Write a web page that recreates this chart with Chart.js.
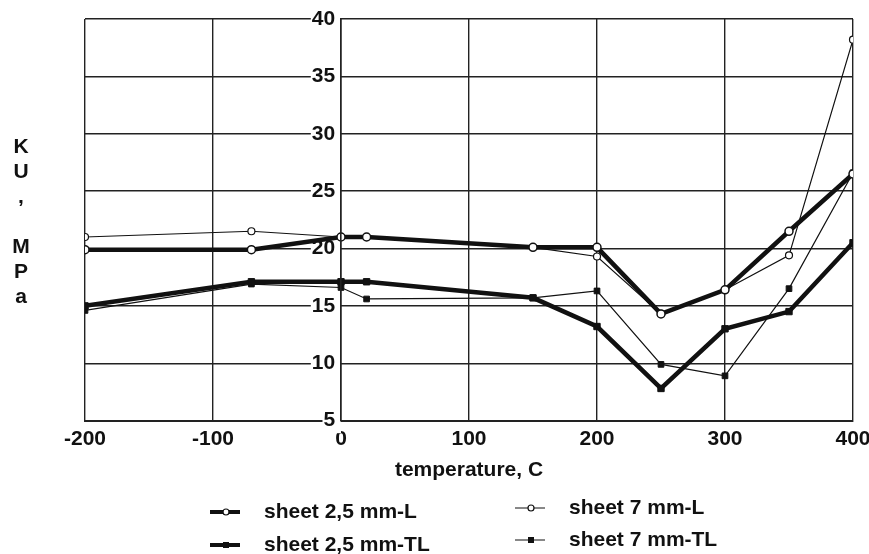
<!DOCTYPE html>
<html>
<head>
<meta charset="utf-8">
<script src="https://cdn.jsdelivr.net/npm/chart.js@4/dist/chart.umd.min.js"></script>
<style>
  html, body { margin: 0; padding: 0; background: #fff; }
  #wrap { width: 869px; height: 554px; }
</style>
</head>
<body>
<div id="wrap"><canvas id="kuChart" width="869" height="554"></canvas></div>
<script>
// temperatures, C
const temps = [-200, -70, 0, 20, 150, 200, 250, 300, 350, 400];
// KU, MPa
const sheet25L  = [19.9, 19.9, 21.0, 21.0, 20.1, 20.1, 14.3, 16.4, 21.5, 26.5];
const sheet25TL = [15.0, 17.1, 17.1, 17.1, 15.7, 13.2, 7.8, 13.0, 14.5, 20.5];
const sheet7L   = [21.0, 21.5, 21.0, 21.0, 20.1, 19.3, 14.3, 16.4, 19.4, 38.2];
const sheet7TL  = [14.6, 16.9, 16.6, 15.6, 15.7, 16.3, 9.9, 8.9, 16.5, 26.6];
const seriesNames = ["sheet 2,5 mm-L", "sheet 2,5 mm-TL", "sheet 7 mm-L", "sheet 7 mm-TL"];
const xTicks = [-200, -100, 0, 100, 200, 300, 400];
const yTicks = [5, 10, 15, 20, 25, 30, 35, 40];

const FONT = "'Liberation Sans', Arial, sans-serif";
const toPoints = vals => temps.map((t, i) => ({ x: t, y: vals[i] }));

// y title, letters stacked
const yTitleLetters = ["K", "U", ",", "", "M", "P", "a"];

const extraText = {
  id: 'extraText',
  afterDraw(chart) {
    const ctx = chart.ctx;
    ctx.save();
    ctx.fillStyle = '#111';
    ctx.font = "bold 21px " + FONT;
    ctx.textAlign = 'center';
    ctx.textBaseline = 'middle';
    yTitleLetters.forEach((ch, i) => {
      ctx.fillText(ch, 21, 147 + i * 25);
    });

    // legend, two columns
    const spots = [
      { x: 210, y: 512 }, { x: 210, y: 545 },
      { x: 515, y: 508 }, { x: 515, y: 540 }
    ];
    chart.data.datasets.forEach((ds, i) => {
      const s = spots[i];
      const lw = ds.borderWidth > 2 ? 4 : 1;
      ctx.strokeStyle = '#111';
      ctx.lineWidth = lw;
      ctx.beginPath();
      ctx.moveTo(s.x, s.y);
      ctx.lineTo(s.x + 30, s.y);
      ctx.stroke();
      const mx = s.x + 16;
      if (ds.pointStyle === 'circle') {
        ctx.fillStyle = '#fff';
        ctx.lineWidth = 1.2;
        ctx.beginPath();
        ctx.arc(mx, s.y, 3, 0, Math.PI * 2);
        ctx.fill();
        ctx.stroke();
      } else {
        ctx.fillStyle = '#111';
        ctx.fillRect(mx - 3, s.y - 3, 6, 6);
      }
      ctx.fillStyle = '#111';
      ctx.textAlign = 'left';
      ctx.font = "bold 21px " + FONT;
      ctx.fillText(ds.label, s.x + 54, s.y);
    });
    ctx.restore();
  }
};

new Chart(document.getElementById('kuChart').getContext('2d'), {
  type: 'line',
  data: {
    datasets: [
      { label: seriesNames[0], data: toPoints(sheet25L), borderColor: '#111', borderWidth: 4.5,
        pointStyle: 'circle', pointRadius: 4, pointBackgroundColor: '#fff', pointBorderColor: '#111', pointBorderWidth: 1.5 },
      { label: seriesNames[1], data: toPoints(sheet25TL), borderColor: '#111', borderWidth: 4.5,
        pointStyle: 'rect', pointRadius: 4.5, pointBackgroundColor: '#111', pointBorderColor: '#111', pointBorderWidth: 1 },
      { label: seriesNames[2], data: toPoints(sheet7L), borderColor: '#111', borderWidth: 1.2,
        pointStyle: 'circle', pointRadius: 3.5, pointBackgroundColor: '#fff', pointBorderColor: '#111', pointBorderWidth: 1.2 },
      { label: seriesNames[3], data: toPoints(sheet7TL), borderColor: '#111', borderWidth: 1.2,
        pointStyle: 'rect', pointRadius: 4, pointBackgroundColor: '#111', pointBorderColor: '#111', pointBorderWidth: 1 }
    ]
  },
  options: {
    responsive: false,
    animation: false,
    layout: { padding: { left: 85, right: 16, top: 19, bottom: 71 } },
    plugins: { legend: { display: false }, tooltip: { enabled: false } },
    elements: { line: { tension: 0 } },
    scales: {
      x: {
        type: 'linear',
        min: xTicks[0],
        max: xTicks[xTicks.length - 1],
        afterBuildTicks: axis => { axis.ticks = xTicks.map(v => ({ value: v })); },
        afterFit: axis => { axis.paddingRight = 4; axis.paddingLeft = 4; },
        grid: { color: '#222', lineWidth: 1.4, drawTicks: false },
        border: { color: '#222', width: 2 },
        ticks: { color: '#111', font: { family: FONT, size: 21, weight: 'bold' }, padding: 6, maxRotation: 0 },
        title: { display: true, text: 'temperature, C', color: '#111',
                 font: { family: FONT, size: 21, weight: 'bold' }, padding: { top: 0, bottom: 0 } }
      },
      y: {
        type: 'linear',
        position: { x: 0 },
        min: yTicks[0],
        max: yTicks[yTicks.length - 1],
        afterBuildTicks: axis => { axis.ticks = yTicks.map(v => ({ value: v })); },
        grid: { color: '#222', lineWidth: 1.4, drawTicks: false },
        border: { color: '#222', width: 1.6, z: 1 },
        ticks: { color: '#111', font: { family: FONT, size: 21, weight: 'bold' }, padding: 4,
                 callback: v => v + ' ',
                 showLabelBackdrop: true, backdropColor: '#fff', backdropPadding: { left: 1, right: 0, top: 0, bottom: 0 } }
      }
    }
  },
  plugins: [extraText]
});
</script>
</body>
</html>
